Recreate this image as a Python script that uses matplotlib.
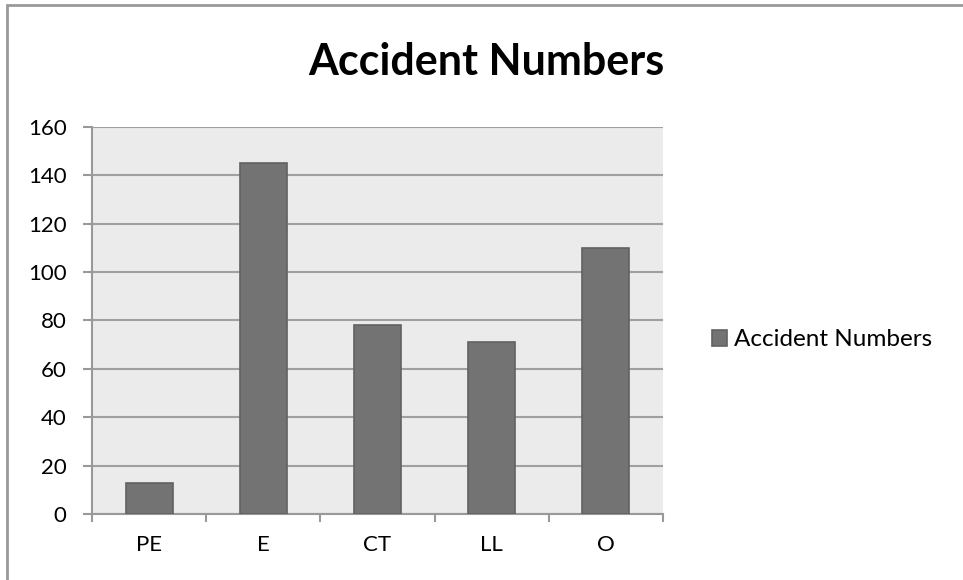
import matplotlib
matplotlib.use("Agg")
import matplotlib.pyplot as plt
from matplotlib.patches import Rectangle

plt.rcParams['font.family'] = ['Lato', 'DejaVu Sans']

# accident counts per category
categories = ['PE', 'E', 'CT', 'LL', 'O']
accidents = [13, 145, 78, 71, 110]
yticks = [0, 20, 40, 60, 80, 100, 120, 140, 160]

fig = plt.figure(figsize=(9.63, 5.80), dpi=100)
ax = fig.add_axes([0.0958, 0.1133, 0.5924, 0.6683])
ax.set_facecolor('#ebebeb')

x = list(range(len(categories)))
ax.bar(x, accidents, width=0.41, color='#737373', edgecolor='#626262',
       linewidth=1.2, zorder=3, label='Accident Numbers')

ax.set_xlim(-0.5, len(categories) - 0.5)
ax.set_ylim(0, 160)
ax.set_yticks(yticks)
ax.set_xticks(x)
ax.set_xticklabels(categories)
ax.yaxis.grid(True, color='#a0a0a0', linewidth=1.5, zorder=1)

# x tick marks sit between categories
ax.tick_params(axis='x', length=0, pad=15, labelsize=16)
ax.set_xticks([i - 0.5 for i in range(len(categories) + 1)], minor=True)
ax.tick_params(axis='x', which='minor', length=6, width=1.5, color='#999999',
               direction='out')
ax.tick_params(axis='y', length=6.5, width=1.5, color='#999999', pad=12,
               labelsize=16)

for side in ['top', 'right']:
    ax.spines[side].set_visible(False)
for side in ['left', 'bottom']:
    ax.spines[side].set_color('#999999')
    ax.spines[side].set_linewidth(1.5)

fig.text(0.505, 0.893, 'Accident Numbers', ha='center', va='center',
         fontsize=31, fontweight='bold')

leg = ax.legend(loc='center left', bbox_to_anchor=(1.07, 0.45), frameon=False,
                fontsize=17.5, handlelength=0.62, handleheight=0.62,
                handletextpad=0.25, borderaxespad=0)

# outer chart border
fig.patches.append(Rectangle((7 / 963, -0.05), 1.2, (575 / 580) + 0.05,
                             transform=fig.transFigure, fill=False,
                             edgecolor='#999999', linewidth=2))

fig.savefig('out.png', dpi=100)
